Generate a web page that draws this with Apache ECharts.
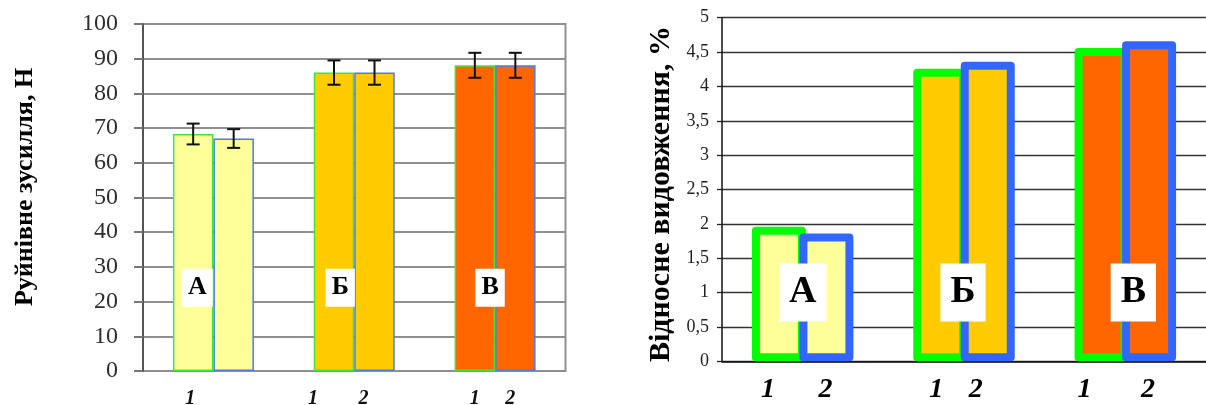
<!DOCTYPE html>
<html>
<head>
<meta charset="utf-8">
<script src="https://cdn.jsdelivr.net/npm/echarts@6/dist/echarts.min.js"></script>
<style>
  html, body { margin: 0; padding: 0; background: #fff; }
  #wrap { position: relative; width: 1206px; height: 405px; overflow: hidden; }
  #force { position: absolute; left: 0; top: 0; width: 600px; height: 405px; filter: blur(0.6px); }
  #elong { position: absolute; left: 600px; top: 0; width: 606px; height: 405px; }
</style>
</head>
<body>
<div id="wrap">
  <div id="force"></div>
  <div id="elong"></div>
</div>
<script>
// ---- data ----
const groups = ['А', 'Б', 'В'];
const groupFill = ['#FFFF99', '#FFCC00', '#FF6600'];

// breaking force, N (sample 1 / sample 2) with error half-widths
const forceSample1 = [68.3, 86.0, 88.1];
const forceSample2 = [67.0, 86.0, 88.1];
const forceErr1 = [3.0, 3.5, 3.6];
const forceErr2 = [2.7, 3.5, 3.6];
const forceTicks1 = ['1', '1', '1'];
const forceTicks2 = ['', '2', '2'];

// relative elongation, %
const elongSample1 = [1.9, 4.2, 4.5];
const elongSample2 = [1.8, 4.3, 4.6];
const elongTicks1 = ['1', '1', '1'];
const elongTicks2 = ['2', '2', '2'];

// ---- layout ----
const SERIF = '"Liberation Serif", "Times New Roman", serif';
const LB_W = 40.5;                      // left bar width, px
const forceTickShift1 = [-3, -21, 0];   // horizontal nudges of sample numbers
const forceTickShift2 = [0, -11, -5];
const forceLetterShift = [-16, -14, -5];
const FORCE_LETTER_LEVEL = 24;

const RB_W = 46, RB_GAP = 1.5, RB_BORDER = 8;
const elongTickShift1 = [-11, -4, -17];
const elongTickShift2 = [-1, -12, -1];
const elongLetterShift = [0, -1, 8];
const ELONG_LETTER_LEVEL = 1;

// ---------- breaking force ----------
function forceBar(values, ticks, shifts, border) {
  return {
    type: 'bar',
    barWidth: LB_W,
    barGap: '0%',
    data: values.map((v, i) => ({
      value: v,
      itemStyle: { color: groupFill[i] },
      label: { show: ticks[i] !== '', offset: [shifts[i], 13] }
    })),
    itemStyle: { borderColor: border, borderWidth: 1.5 },
    label: {
      show: true, position: 'bottom', distance: 5,
      formatter: p => ticks[p.dataIndex],
      fontFamily: SERIF, fontStyle: 'italic', fontWeight: 'bold', fontSize: 20, color: '#111'
    },
    z: 2
  };
}

function errorBars(values, errs, side) {
  return {
    type: 'custom',
    data: values.map((v, i) => [i, v, errs[i]]),
    encode: { x: 0, y: 1 },
    z: 5,
    silent: true,
    renderItem(params, api) {
      const i = api.value(0), v = api.value(1), e = api.value(2);
      const hi = api.coord([i, v + e]);
      const lo = api.coord([i, v - e]);
      const x = hi[0] + side * LB_W / 2;
      const cap = 6.5;
      const style = { stroke: '#111', lineWidth: 2 };
      return {
        type: 'group',
        children: [
          { type: 'line', shape: { x1: x, y1: hi[1], x2: x, y2: lo[1] }, style },
          { type: 'line', shape: { x1: x - cap, y1: hi[1], x2: x + cap, y2: hi[1] }, style },
          { type: 'line', shape: { x1: x - cap, y1: lo[1], x2: x + cap, y2: lo[1] }, style }
        ]
      };
    }
  };
}

function letterSeries(level, shifts, fontSize, padding) {
  return {
    type: 'scatter', silent: true, z: 6,
    symbolSize: 1, itemStyle: { color: 'rgba(0,0,0,0)', opacity: 1 },
    data: groups.map((g, i) => ({ value: [i, level], label: { offset: [shifts[i], 0] } })),
    label: {
      show: true, position: 'inside', formatter: p => groups[p.dataIndex],
      backgroundColor: '#ffffff', padding: padding, lineHeight: fontSize, opacity: 1,
      fontFamily: SERIF, fontWeight: 'bold', fontSize: fontSize, color: '#000'
    }
  };
}

const forceChart = echarts.init(document.getElementById('force'));
forceChart.setOption({
  animation: false,
  grid: { left: 143, top: 24, width: 422.5, height: 347, show: true, borderColor: '#8f8f8f', borderWidth: 2 },
  xAxis: {
    type: 'category', data: groups,
    axisLine: { show: false }, axisTick: { show: false }, axisLabel: { show: false }
  },
  yAxis: {
    type: 'value', min: 0, max: 100, interval: 10,
    axisLine: { show: true, lineStyle: { color: '#555', width: 2 } },
    axisTick: { show: true, length: 9, lineStyle: { color: '#777', width: 2 } },
    axisLabel: { margin: 25, fontFamily: SERIF, fontSize: 24, color: '#2e2e2e' },
    splitLine: { show: true, lineStyle: { color: '#8f8f8f', width: 2 } }
  },
  graphic: [{
    type: 'text', x: 25, y: 187, rotation: Math.PI / 2,
    style: {
      text: 'Руйнівне зусилля, Н', font: 'bold 26px ' + SERIF, fill: '#000',
      align: 'center', verticalAlign: 'middle'
    }
  }],
  series: [
    forceBar(forceSample1, forceTicks1, forceTickShift1, '#3de83d'),
    forceBar(forceSample2, forceTicks2, forceTickShift2, '#4d7be8'),
    errorBars(forceSample1, forceErr1, -1),
    errorBars(forceSample2, forceErr2, 1),
    letterSeries(FORCE_LETTER_LEVEL, forceLetterShift, 26, [6, 6])
  ]
});

// ---------- relative elongation ----------
function elongBar(values, ticks, shifts, side, stroke) {
  return {
    type: 'custom',
    data: values.map((v, i) => [i, v]),
    encode: { x: 0, y: 1 },
    z: 2 + side,
    renderItem(params, api) {
      const i = api.value(0), v = api.value(1);
      const base = api.coord([i, 0]);
      const top = api.coord([i, v]);
      const cx = base[0] + side * (RB_W + RB_GAP) / 2;
      const bottom = base[1] - RB_BORDER / 2;
      return {
        type: 'group',
        children: [
          {
            type: 'rect',
            shape: { x: cx - RB_W / 2, y: top[1], width: RB_W, height: bottom - top[1] },
            style: { fill: groupFill[i], stroke: stroke, lineWidth: RB_BORDER, lineJoin: 'round' }
          },
          {
            type: 'text',
            style: {
              text: ticks[i], x: cx + shifts[i], y: base[1] + 28,
              font: 'italic bold 28px ' + SERIF, fill: '#000',
              align: 'center', verticalAlign: 'middle'
            }
          }
        ]
      };
    }
  };
}

const elongChart = echarts.init(document.getElementById('elong'));
elongChart.setOption({
  animation: false,
  grid: { left: 122, top: 17.7, width: 494, height: 343.6 },
  xAxis: {
    type: 'category', data: groups,
    axisLine: { show: true, lineStyle: { color: '#111', width: 1.5 } },
    axisTick: { show: false }, axisLabel: { show: false }
  },
  yAxis: {
    type: 'value', min: 0, max: 5, interval: 0.5,
    axisLine: { show: true, lineStyle: { color: '#111', width: 1.5 } },
    axisTick: { show: true, length: 5, lineStyle: { color: '#222', width: 1.3 } },
    axisLabel: {
      margin: 13, fontFamily: SERIF, fontSize: 18, color: '#222',
      formatter: v => String(v).replace('.', ',')
    },
    splitLine: { show: true, lineStyle: { color: '#333', width: 1.3 } }
  },
  graphic: [{
    type: 'text', x: 61, y: 194, rotation: Math.PI / 2,
    style: {
      text: 'Відносне видовження, %', font: 'bold 30px ' + SERIF, fill: '#000',
      align: 'center', verticalAlign: 'middle'
    }
  }],
  series: [
    elongBar(elongSample1, elongTicks1, elongTickShift1, -1, '#00ff00'),
    elongBar(elongSample2, elongTicks2, elongTickShift2, 1, '#3366ff'),
    letterSeries(ELONG_LETTER_LEVEL, elongLetterShift, 38, [10, 10])
  ]
});
</script>
</body>
</html>
